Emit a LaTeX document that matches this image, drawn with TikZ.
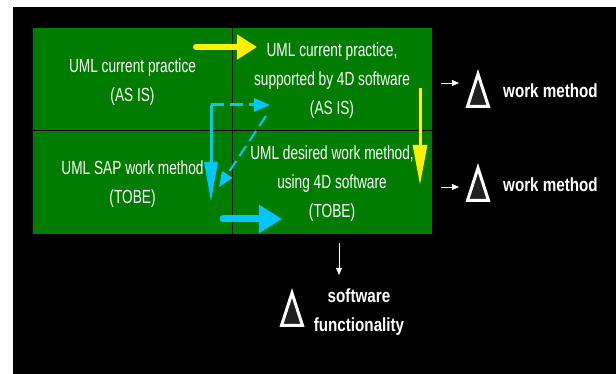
\documentclass[tikz,border=0pt]{standalone}
\usepackage{fontspec}
\newfontfamily\narrowfont[FakeStretch=0.72]{Liberation Sans}
\newfontfamily\outcomefont[FakeStretch=0.8]{Liberation Sans}
\usetikzlibrary{arrows.meta,positioning,calc}
\definecolor{cellgreen}{RGB}{0,125,0}
\definecolor{flowcyan}{RGB}{0,200,255}
\definecolor{deltafill}{RGB}{32,32,32}
\tikzstyle{cell} = [font=\narrowfont\fontsize{19}{29}\selectfont, text=white, align=center, inner sep=0pt]
\tikzstyle{outcome} = [font=\outcomefont\bfseries\fontsize{19}{29}\selectfont, text=white, align=center, inner sep=0pt]
\tikzstyle{delta} = [draw=white, line width=3pt, fill=deltafill, line join=miter]
\tikzstyle{pointer} = [white, line width=0.8pt, -{Triangle[length=7pt,width=6pt]}]
\tikzstyle{fatarrow} = [line width=6pt, line cap=round]
\tikzstyle{thinarrow} = [line width=3pt]

\begin{document}
\begin{tikzpicture}[x=1pt,y=1pt]
	\fill[white] (0,0) rectangle (616,374);
	\fill[black] (13,0) rectangle (616,367);
	% the four cells
	\fill[cellgreen] (33,140) rectangle (432,346);
	\draw[line width=1pt] (232,140) -- (232,346);
	\draw[line width=1pt] (33,243) -- (432,243);
	\node[cell] (asis)   at (132.5,292) {UML current practice\\(AS IS)};
	\node[cell] (asis4d) at (332,293)   {UML current practice,\\supported by 4D software\\(AS IS)};
	\node[cell] (tobe)   at (132.5,190) {UML SAP work method\\(TOBE)};
	\node[cell] (tobe4d) at (332,190)   {UML desired work method,\\using 4D software\\(TOBE)};

	% yellow steps
	\coordinate (y-a) at (196,327);
	\coordinate (y-b) at (257,327);
	\draw[yellow, fatarrow, -{Triangle[length=20pt,width=24pt]}] (y-a) -- (y-b);
	\coordinate (y-c) at (420,286);
	\coordinate (y-d) at (420,189);
	\draw[yellow, thinarrow, -{Triangle[length=40pt,width=14pt]}] (y-c) -- (y-d);

	% cyan steps
	\coordinate (c-corner) at (211,269);
	\coordinate (c-right)  at (270,269);
	\coordinate (c-down)   at (211,172);
	\draw[flowcyan, thinarrow, dash pattern=on 13pt off 6pt, -{Triangle[length=16pt,width=13pt]}] (c-corner) -- (c-right);
	\draw[flowcyan, thinarrow, -{Triangle[length=40pt,width=13pt]}] (c-corner) -- (c-down);
	\coordinate (c-diag-a) at (266,258);
	\coordinate (c-diag-b) at (219,187);
	\draw[flowcyan, line width=2pt, dash pattern=on 12pt off 6pt, -{Triangle[length=15pt,width=12pt]}] (c-diag-a) -- (c-diag-b);
	\coordinate (c-a) at (223,155);
	\coordinate (c-b) at (282,155);
	\draw[flowcyan, fatarrow, line width=7pt, -{Triangle[length=23pt,width=27pt]}] (c-a) -- (c-b);

	% deltas
	\coordinate (d1) at (478,300);
	\coordinate (d2) at (478,206);
	\coordinate (d3) at (292,81);
	\foreach \d in {d1,d2,d3}
		\draw[delta] (\d) -- ++(-10.5,-32.5) -- ++(21,0) -- cycle;
	\node[outcome, anchor=west] (wm1) at (503,283) {work method};
	\node[outcome, anchor=west] (wm2) at (503,189) {work method};
	\node[outcome] (sw) at (359,62) {software\\functionality};

	\coordinate (p1) at (441,291);
	\coordinate (p1e) at (459,291);
	\draw[pointer] (p1) -- (p1e);
	\coordinate (p2) at (441,187);
	\coordinate (p2e) at (459,187);
	\draw[pointer] (p2) -- (p2e);
	\coordinate (p3) at (339,131);
	\coordinate (p3e) at (339,99);
	\draw[pointer] (p3) -- (p3e);
\end{tikzpicture}
\end{document}
